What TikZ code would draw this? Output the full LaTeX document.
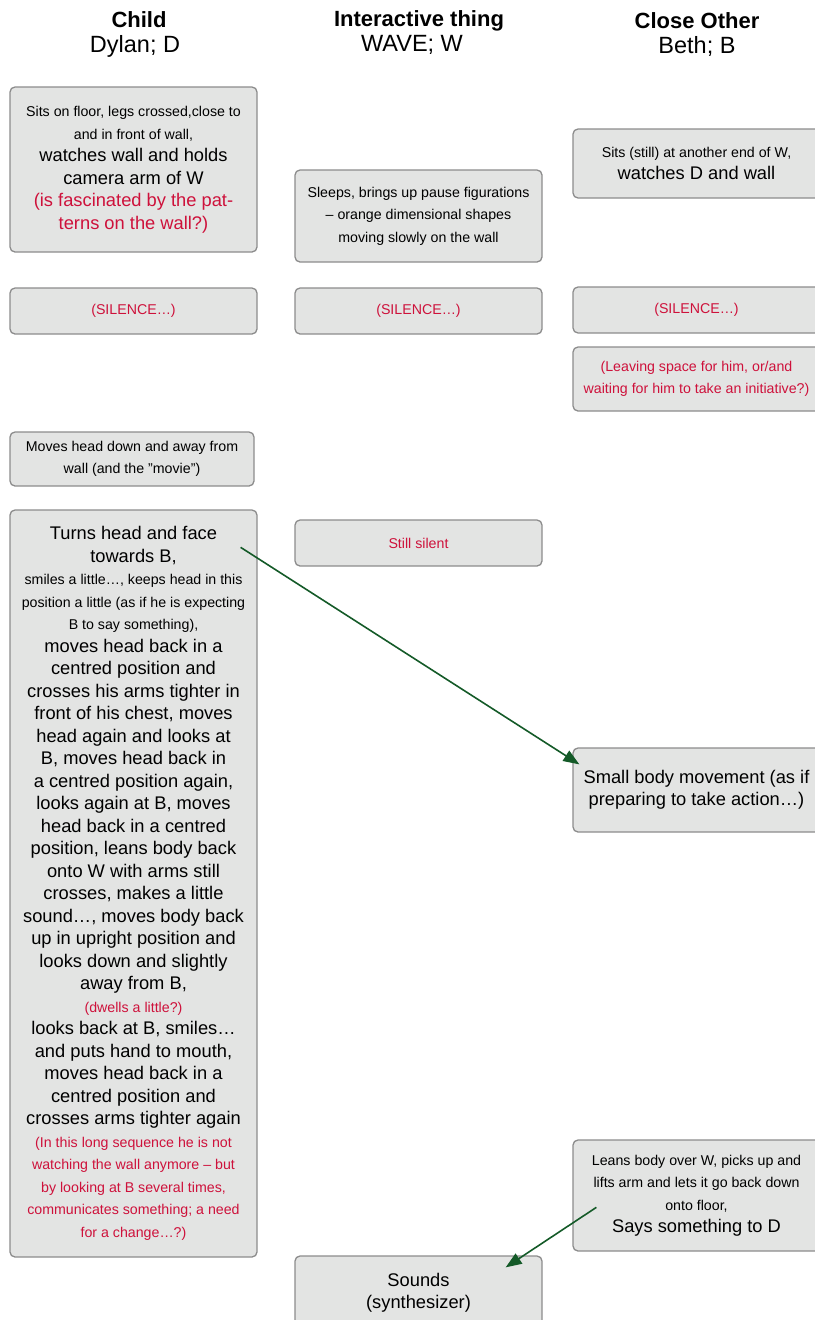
\documentclass[tikz,border=0pt]{standalone}
\usepackage{fontspec}
\setmainfont{Liberation Sans}
\usetikzlibrary{arrows.meta,calc}
\definecolor{boxfill}{RGB}{227,228,227}
\definecolor{boxline}{RGB}{140,140,140}
\definecolor{redtxt}{RGB}{206,17,59}
\definecolor{arrgreen}{RGB}{20,90,40}
\newcommand\smtxt{\fontsize{14.2pt}{22.5pt}\selectfont}
\newcommand\bigtxt{\fontsize{18.3pt}{22.5pt}\selectfont}
\newcommand\redt{\color{redtxt}}
\begin{document}
\begin{tikzpicture}[x=1pt,y=-1pt,
  box/.style={draw=boxline, fill=boxfill, line width=1.3pt, rounded corners=5pt,
    align=center, inner sep=0pt, minimum width=247pt, font=\smtxt, text=black},
  conn/.style={draw=arrgreen, line width=1.6pt, -{Triangle[length=16pt,width=12pt]}},
  head/.style={font=\fontsize{22pt}{26pt}\selectfont\bfseries, anchor=base},
  sub/.style={font=\fontsize{23.5pt}{26pt}\selectfont, anchor=base}]
\useasboundingbox (0,0) rectangle (814,1320);

% headers
\node[head] (h1) at (139,27) {Child};
\node[sub] (s1) at (135,52) {Dylan; D};
\node[head] (h2) at (419,26) {Interactive thing};
\node[sub] (s2) at (412,51) {WAVE; W};
\node[head] (h3) at (697,28) {Close Other};
\node[sub] (s3) at (697,53) {Beth; B};

% child column
\node[box, minimum height=165pt] (c1) at (133.5,169.5)
 {Sits on floor, legs crossed,close to\\
  and in front of wall,\\
  {\bigtxt watches wall and holds}\\
  {\bigtxt camera arm of W}\\
  {\bigtxt\redt (is fascinated by the pat-}\\
  {\bigtxt\redt terns on the wall?)}};
\node[box, minimum height=46pt] (cs) at (133.5,311) {{\redt (SILENCE…)}};
\node[box, minimum height=54pt, minimum width=244pt] (cm) at (132,459)
 {Moves head down and away from\\ wall (and the ”movie”)};
\node[box, minimum height=747pt] (cl) at (133.5,883.5)
 {{\bigtxt Turns head and face}\\
  {\bigtxt towards B,}\\
  smiles a little…, keeps head in this\\
  position a little (as if he is expecting\\
  B to say something),\\
  {\bigtxt moves head back in a}\\
  {\bigtxt centred position and}\\
  {\bigtxt crosses his arms tighter in}\\
  {\bigtxt front of his chest, moves}\\
  {\bigtxt head again and looks at}\\
  {\bigtxt B, moves head back in}\\
  {\bigtxt a centred position again,}\\
  {\bigtxt looks again at B, moves}\\
  {\bigtxt head back in a centred}\\
  {\bigtxt position, leans body back}\\
  {\bigtxt onto W with arms still}\\
  {\bigtxt crosses, makes a little}\\
  {\bigtxt sound…, moves body back}\\
  {\bigtxt up in upright position and}\\
  {\bigtxt looks down and slightly}\\
  {\bigtxt away from B,}\\
  {\redt (dwells a little?)}\\
  {\bigtxt looks back at B, smiles…}\\
  {\bigtxt and puts hand to mouth,}\\
  {\bigtxt moves head back in a}\\
  {\bigtxt centred position and}\\
  {\bigtxt crosses arms tighter again}\\
  {\redt (In this long sequence he is not}\\
  {\redt watching the wall anymore – but}\\
  {\redt by looking at B several times,}\\
  {\redt communicates something; a need}\\
  {\redt for a change…?)}};

% WAVE column
\node[box, minimum height=92pt] (w1) at (418.5,216)
 {Sleeps, brings up pause figurations\\
  – orange dimensional shapes\\
  moving slowly on the wall};
\node[box, minimum height=46pt] (ws) at (418.5,311) {{\redt (SILENCE…)}};
\node[box, minimum height=46pt] (wss) at (418.5,543) {{\redt Still silent}};
\node[box, minimum height=74pt] (wsn) at (418.5,1293)
 {{\bigtxt Sounds}\\ {\bigtxt (synthesizer)}};

% Close other column
\node[box, minimum height=69pt] (b1) at (696.5,163.5)
 {Sits (still) at another end of W,\\ {\bigtxt watches D and wall}};
\node[box, minimum height=46pt] (bs) at (696.5,310) {{\redt (SILENCE…)}};
\node[box, minimum height=64pt] (bl) at (696.5,379)
 {{\redt (Leaving space for him, or/and}\\
  {\redt waiting for him to take an initiative?)}};
\node[box, minimum height=84pt] (bsm) at (696.5,790)
 {{\bigtxt Small body movement (as if}\\
  {\bigtxt preparing to take action…)}};
\node[box, minimum height=111pt] (ble) at (696.5,1195.5)
 {Leans body over W, picks up and\\
  lifts arm and lets it go back down\\
  onto floor,\\
  {\bigtxt Says something to D}};

% connectors
\coordinate (a1s) at ($(cl.north east)+(-17,38)$);
\coordinate (a1e) at ($(bsm.north west)+(7,17)$);
\draw[conn] (a1s) -- (a1e);
\coordinate (a2s) at ($(ble.north west)+(24,68)$);
\coordinate (a2e) at ($(wsn.north east)+(-37,12)$);
\draw[conn] (a2s) -- (a2e);
\end{tikzpicture}
\end{document}
